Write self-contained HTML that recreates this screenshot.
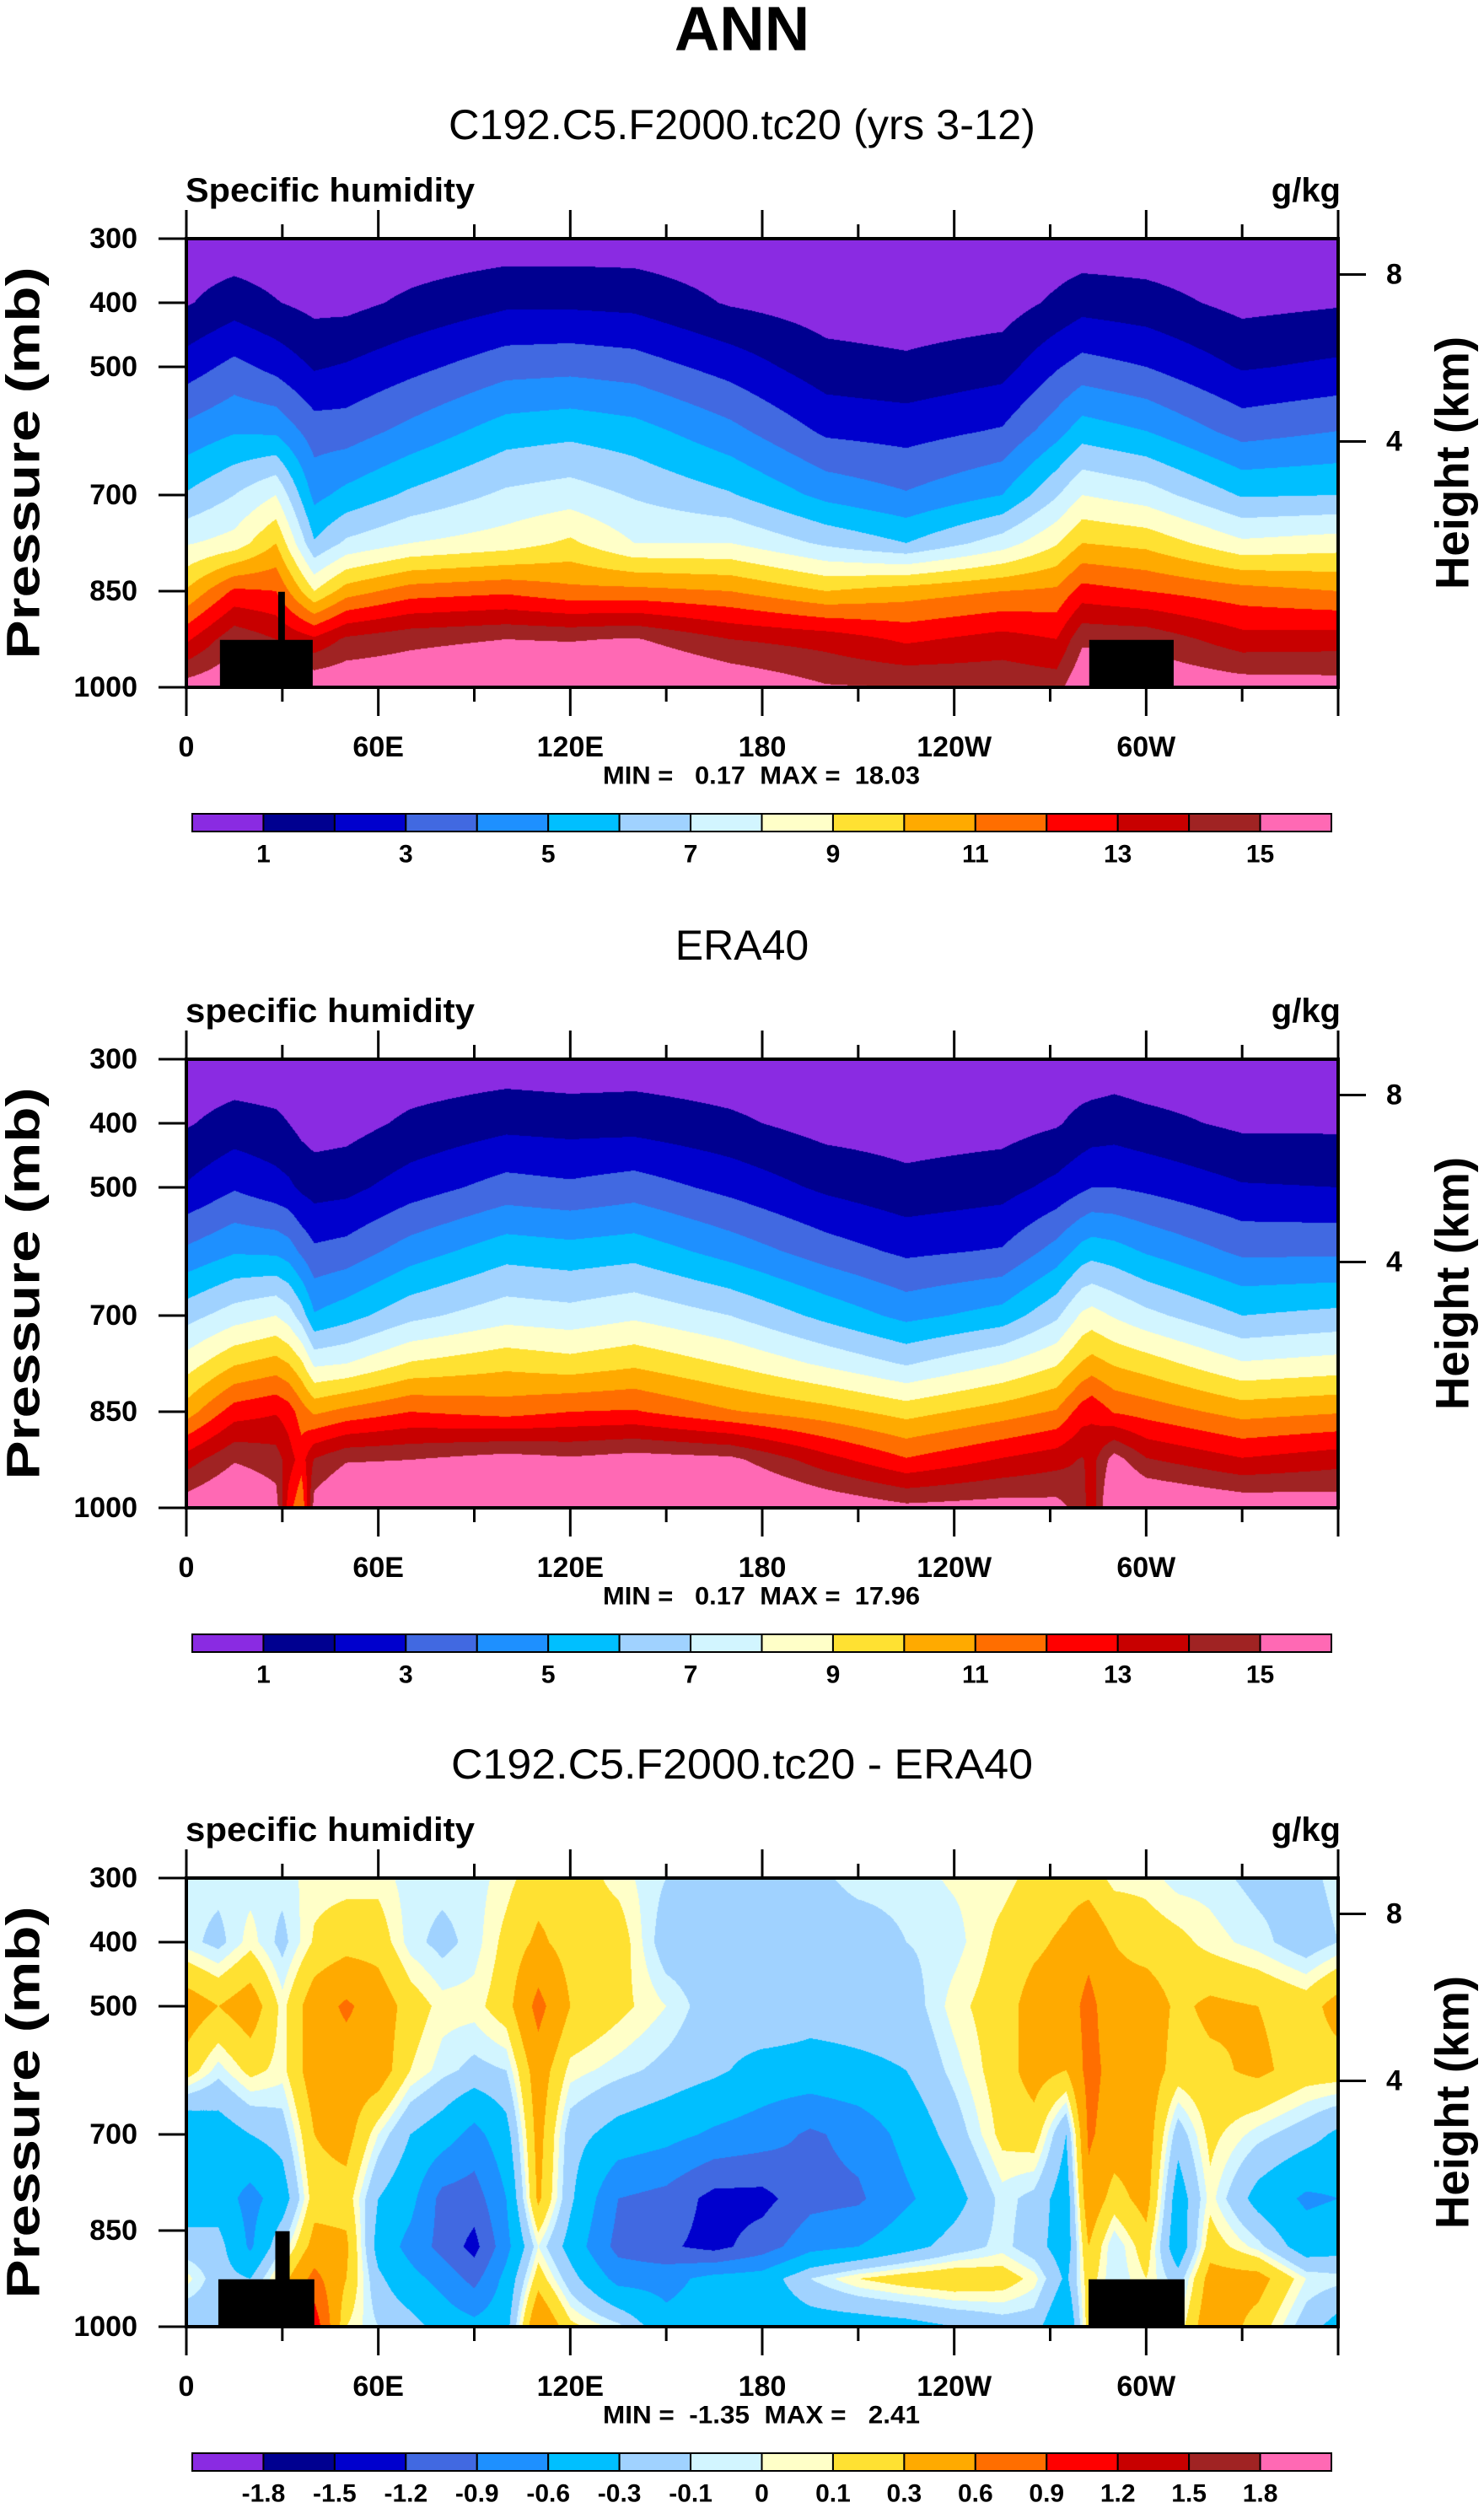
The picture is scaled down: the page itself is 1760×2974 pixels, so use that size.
<!DOCTYPE html>
<html><head><meta charset="utf-8">
<style>
html,body{margin:0;padding:0;background:#fff;}
#wrap{position:relative;width:1760px;height:2974px;overflow:hidden;background:#fff;}
canvas{position:absolute;}
svg{position:absolute;left:0;top:0;}
text{font-family:"Liberation Sans",Arial,sans-serif;}
.pre{white-space:pre;}
</style></head>
<body>
<div id="wrap">
<canvas id="c0" width="1366" height="532" style="left:221px;top:283px"></canvas>
<canvas id="c1" width="1366" height="532" style="left:221px;top:1256px"></canvas>
<canvas id="c2" width="1366" height="532" style="left:221px;top:2227px"></canvas>
<svg id="ov" width="1760" height="2974"></svg>
</div>
<script>
// ---------- data ----------
const qLevels = [1,2,3,4,5,6,7,8,9,10,11,12,13,14,15];
const qLabels = ["1","3","5","7","9","11","13","15"];
const dLevels = [-1.8,-1.5,-1.2,-0.9,-0.6,-0.3,-0.1,0,0.1,0.3,0.6,0.9,1.2,1.5,1.8];
const dLabels = ["-1.8","-1.5","-1.2","-0.9","-0.6","-0.3","-0.1","0","0.1","0.3","0.6","0.9","1.2","1.5","1.8"];
const fillColors = ["#8a2be2","#000090","#0000cd","#4169e1","#1e90ff","#00bfff","#a0d2ff","#d2f5ff","#ffffc8","#ffe132","#ffaa00","#ff6e00","#ff0000","#c80000","#a02323","#ff69b4"];

const presLevels = [300,400,500,600,700,775,850,925,1000];
const lonModel = [0,15,28,40,50,70,100,120,140,170,200,225,255,272,280,300,330,360];
const qModel = [
[0.4,0.9,2.5,4.3,6.1,7.9,10.1,12.8,15.5],
[0.3,1.5,3.3,4.9,7.0,8.4,12.2,14.7,16],
[0.3,1.05,2.7,4.8,8.0,10.0,12,14,16],
[0.2,0.7,1.9,3.5,4.7,6.1,9.0,13.2,16],
[0.2,0.7,2.1,3.5,5.3,7.2,10.5,14.2,16],
[0.3,1.2,2.7,4.3,6.2,8.0,11.5,14.7,16],
[0.4,1.8,3.6,5.5,7.2,8.5,11.8,15,16.5],
[0.4,1.8,3.7,5.7,7.5,9.2,11.3,14.9,16.8],
[0.4,1.7,3.5,5.4,6.9,8.0,11.3,15.1,16.8],
[0.3,0.9,2.6,4.3,6.1,8.0,11.0,14.0,16],
[0.2,0.5,1.4,2.8,4.7,6.8,10.0,13.6,15.1],
[0.2,0.4,1.2,2.6,4.1,6.0,10.5,12.8,15],
[0.2,0.5,1.6,3.1,5.0,7.5,11.0,13.4,14.8],
[0.3,1.2,2.9,4.6,6.9,8.9,11.2,13.0,14.6],
[0.3,1.6,3.4,5.5,8.0,10.0,12.4,14.8,16],
[0.3,1.4,3.0,5.0,7.5,9.7,12.0,14.7,16],
[0.2,0.7,1.9,3.6,5.9,8.2,11.4,13.4,15.6],
[0.3,0.9,2.2,4.0,6.0,8.5,11.0,13.5,15.5]
];

const lonEra = [0,15,28,32,36,40,50,70,100,120,140,170,200,225,255,272,280,283,290,300,330,360];
const qEra = [
[0.3,0.9,2.1,4.2,6.6,8.5,10.5,13.5,15.7],
[0.3,1.4,2.9,4.9,7.5,9.9,12.5,14.9,16.5],
[0.3,1.2,2.4,4.8,8.0,10.4,12.9,14.5,15.5],
[0.3,1.0,2.2,4.5,7.5,10,12.5,13.5,12.5],
[0.25,0.7,1.8,3.8,6.5,9.2,11.5,12.5,11],
[0.2,0.5,1.6,3.2,5.1,7.8,10.8,14.1,15.5],
[0.2,0.6,1.7,3.4,5.6,8.0,11.3,14.9,16.5],
[0.3,1.2,2.5,4.5,6.7,9.1,12.0,15.0,16.5],
[0.4,1.7,3.4,5.6,7.6,9.7,11.6,15.5,17],
[0.3,1.6,3.2,5.4,7.4,9.4,12.0,15.2,17],
[0.4,1.6,3.5,5.6,7.8,9.8,12.1,15.5,17],
[0.3,1.2,2.7,4.6,7.0,8.9,11.1,15.3,17],
[0.2,0.6,1.8,3.5,5.7,7.8,10.4,13.4,16],
[0.2,0.5,1.3,2.8,4.7,6.9,9.6,12.1,15.3],
[0.2,0.6,1.6,3.1,5.4,8.0,10.5,13.1,15.5],
[0.3,0.9,2.3,4.4,6.8,8.9,11.1,13.6,15.4],
[0.3,1.3,2.8,5.4,8.2,10.1,12.5,14.1,14.5],
[0.3,1.4,3.0,5.6,8.4,10.4,12.8,13.6,13.2],
[0.4,1.5,3.0,5.4,7.9,9.9,11.9,15.5,17],
[0.3,1.3,2.8,4.9,7.3,9.5,11.6,14.1,16.5],
[0.3,0.8,2.1,3.8,6.0,8.1,10.6,13.1,15.9],
[0.3,0.8,2.0,3.8,6.3,8.4,10.9,13.6,15.7]
];

const presDiff = [300,400,500,600,700,800,875,925,1000];
const lonDiff = [0,10,20,30,40,50,60,70,80,90,100,110,120,135,150,165,180,195,210,225,240,255,265,275,282,290,300,310,320,335,350,360];
const dDiff = [
[-0.05,-0.05,0.45,0.2,-0.6,-0.45,-0.2,0.05,-0.3],
[-0.05,-0.15,0.3,-0.05,-0.45,-0.45,-0.2,-0.2,-0.2],
[-0.05,0.05,0.45,0.15,-0.3,-0.7,-0.65,-0.3,-0.3],
[-0.05,-0.15,0.05,0.05,-0.2,-0.45,-0.1,0.2,0.2],
[0.05,0.12,0.45,0.45,0.3,0.2,0.4,0.7,1.1],
[0.05,0.2,0.65,0.45,0.4,0.2,0.35,0.3,0.1],
[0.05,0.2,0.45,0.45,0.0,-0.3,-0.4,-0.25,-0.1],
[-0.05,-0.05,0.2,0.1,-0.3,-0.5,-0.7,-0.5,-0.2],
[-0.05,-0.15,0.05,-0.05,-0.45,-1.0,-1.0,-0.7,-0.4],
[-0.05,-0.05,0.05,-0.15,-0.7,-1.05,-1.3,-1.0,-0.5],
[0.05,0.15,0.2,-0.1,-0.4,-0.6,-0.7,-0.5,-0.4],
[0.2,0.35,0.7,0.45,0.4,0.35,0.0,0.2,0.6],
[0.2,0.2,0.3,0.05,-0.2,-0.25,-0.4,-0.2,0.15],
[0.05,0.2,0.15,-0.05,-0.4,-0.9,-1.0,-0.7,-0.05],
[-0.1,-0.2,0.0,-0.15,-0.5,-1.0,-1.15,-0.7,-0.5],
[-0.2,-0.2,-0.2,-0.25,-0.65,-1.3,-1.3,-0.5,-0.45],
[-0.2,-0.2,-0.1,-0.4,-0.75,-1.3,-1.05,-0.45,-0.5],
[-0.15,-0.2,-0.2,-0.4,-0.95,-1.0,-0.7,-0.1,-0.45],
[-0.05,-0.2,-0.2,-0.35,-0.8,-0.95,-0.6,0.1,-0.45],
[-0.05,-0.1,-0.2,-0.3,-0.5,-0.65,-0.4,0.2,-0.4],
[0.02,-0.05,0.05,-0.05,-0.2,-0.4,-0.2,0.25,-0.3],
[0.05,0.15,0.2,0.2,0.15,-0.05,-0.05,0.2,-0.2],
[0.15,0.25,0.4,0.4,0.2,-0.15,-0.2,0.05,-0.2],
[0.2,0.35,0.45,0.3,-0.3,-0.45,-0.45,-0.35,-0.6],
[0.2,0.5,0.7,0.7,0.65,0.5,0.3,0.2,0.2],
[0.05,0.3,0.4,0.5,0.45,0.2,-0.1,-0.1,-0.1],
[0.05,0.2,0.45,0.45,0.45,0.4,0.2,0.1,0.1],
[-0.05,0.15,0.25,0.2,-0.2,-0.45,-0.5,-0.2,0.0],
[-0.05,0.05,0.35,0.25,0.15,0.05,0.2,0.4,0.5],
[-0.15,-0.05,0.3,0.35,-0.05,-0.4,-0.05,0.4,0.2],
[-0.15,-0.2,0.2,0.2,-0.2,-0.65,-0.45,0.0,-0.2],
[-0.05,-0.1,0.4,0.2,-0.35,-0.6,-0.4,-0.05,-0.4]
];

const xTickLons = [0,60,120,180,240,300];
const xTickLabels = ["0","60E","120E","180","120W","60W"];
const yTickPres = [300,400,500,700,850,1000];
const heightTicksKm = [4,8];

// ---------- geometry ----------
const PL = 221, PW = 1366, PH = 532;
const panelTops = [283,1256,2227];
const xScale = lon => PL + lon/360*PW;
const yScale = (top,p) => top + (p-300)/700*PH;

function hex2rgb(h){return [parseInt(h.substr(1,2),16),parseInt(h.substr(3,2),16),parseInt(h.substr(5,2),16)];}
const rgbs = fillColors.map(hex2rgb);

function locate(arr, v){
  let i=0; while(i<arr.length-2 && v>arr[i+1]) i++;
  let t=(v-arr[i])/(arr[i+1]-arr[i]); t=Math.max(0,Math.min(1,t));
  return [i,t];
}
function drawField(id, lons, pres, cols, levels){
  const cv=document.getElementById(id), ctx=cv.getContext('2d');
  const img=ctx.createImageData(PW,PH), d=img.data;
  const xs=[]; for(let x=0;x<PW;x++) xs.push(locate(lons,(x+0.5)/PW*360));
  for(let y=0;y<PH;y++){
    const [j,u]=locate(pres,300+(y+0.5)/PH*700);
    for(let x=0;x<PW;x++){
      const [i,t]=xs[x];
      const v=(1-t)*(1-u)*cols[i][j]+t*(1-u)*cols[i+1][j]+(1-t)*u*cols[i][j+1]+t*u*cols[i+1][j+1];
      let k=0; while(k<levels.length && v>=levels[k]) k++;
      const c=rgbs[k], o=(y*PW+x)*4;
      d[o]=c[0];d[o+1]=c[1];d[o+2]=c[2];d[o+3]=255;
    }
  }
  ctx.putImageData(img,0,0);
}
drawField('c0',lonModel,presLevels,qModel,qLevels);
drawField('c1',lonEra,presLevels,qEra,qLevels);
drawField('c2',lonDiff,presDiff,dDiff,dLevels);

// ---------- overlay ----------
const NS="http://www.w3.org/2000/svg", svg=document.getElementById('ov');
function mk(tag, attrs, parent){
  const e=document.createElementNS(NS,tag);
  for(const k in attrs) e.setAttribute(k,attrs[k]);
  (parent||svg).appendChild(e); return e;
}
function txt(s, attrs, name){
  const e=mk('text',attrs); e.textContent=s;
  
  
  return e;
}
txt("ANN",{x:880,y:34,"font-size":74,"font-weight":"bold","text-anchor":"middle","dominant-baseline":"central"},"figure-title");

const panels = [
 {title:"C192.C5.F2000.tc20 (yrs 3-12)", tw:696, left:"Specific humidity", mm:"MIN =   0.17  MAX =  18.03", masks:[[10.5,39.5,926],[28.7,30.8,851],[282.2,308.6,926]], labels:qLabels, step:2},
 {title:"ERA40", tw:0, left:"specific humidity", mm:"MIN =   0.17  MAX =  17.96", masks:[], labels:qLabels, step:2},
 {title:"C192.C5.F2000.tc20 - ERA40", tw:690, left:"specific humidity", mm:"MIN =  -1.35  MAX =   2.41", masks:[[10,40,926],[27.8,32.3,851],[282,312,926]], labels:dLabels, step:1}
];
function hPres(km){return 1013.25*Math.pow(1-2.25577e-5*km*1000,5.25588);}

panels.forEach((pn,n)=>{
  const top=panelTops[n], bot=top+PH, off=top-283;
  const ta={x:880,y:148+off,"font-size":50,"text-anchor":"middle","dominant-baseline":"central"};
  if(pn.tw) {ta.textLength=pn.tw; ta.lengthAdjust="spacingAndGlyphs";}
  txt(pn.title,ta,"panel-title-"+(n+1));
  txt(pn.left,{x:220,y:226+off,"font-size":40,"font-weight":"bold","dominant-baseline":"central",textLength:343,lengthAdjust:"spacingAndGlyphs"},"variable-label-"+(n+1));
  txt("g/kg",{x:1590,y:226+off,"font-size":40,"font-weight":"bold","text-anchor":"end","dominant-baseline":"central"},"units-label-"+(n+1));
  pn.masks.forEach(m=>{
    const r=mk('rect',{x:xScale(m[0]),y:yScale(top,m[2]),width:xScale(m[1])-xScale(m[0]),height:bot-yScale(top,m[2]),fill:"#000"});
    
    
  });
  const fr=mk('rect',{x:PL,y:top,width:PW,height:PH,fill:"none",stroke:"#000","stroke-width":4});
  
  
  for(let lon=0;lon<=360;lon+=30){
    const major = lon%60===0, len = major?34:17, x=xScale(lon);
    const a=mk('line',{x1:x,x2:x,y1:top,y2:top-len,stroke:"#000","stroke-width":3});
    
    
    const b=mk('line',{x1:x,x2:x,y1:bot,y2:bot+len,stroke:"#000","stroke-width":3});
    
    
  }
  xTickLons.forEach((lon,i)=>txt(xTickLabels[i],{x:xScale(lon),y:886+off,"font-size":34,"font-weight":"bold","text-anchor":"middle","dominant-baseline":"central"},"x-tick-label"));
  yTickPres.forEach(p=>{
    const y=yScale(top,p);
    const l=mk('line',{x1:PL,x2:PL-33,y1:y,y2:y,stroke:"#000","stroke-width":3});
    
    
    txt(String(p),{x:163,y:y,"font-size":34,"font-weight":"bold","text-anchor":"end","dominant-baseline":"central"},"y-tick-label");
  });
  heightTicksKm.forEach(km=>{
    const y=yScale(top,hPres(km));
    const l=mk('line',{x1:PL+PW,x2:PL+PW+33,y1:y,y2:y,stroke:"#000","stroke-width":3});
    
    
    txt(String(km),{x:1644,y:y,"font-size":34,"font-weight":"bold","dominant-baseline":"central"},"height-tick-label");
  });
  const cy=top+PH/2;
  txt("Pressure (mb)",{x:27,y:cy,"font-size":56,"font-weight":"bold","text-anchor":"middle","dominant-baseline":"central",transform:`rotate(-90 27 ${cy})`,textLength:465,lengthAdjust:"spacingAndGlyphs"},"y-axis-title");
  txt("Height (km)",{x:1722,y:cy,"font-size":56,"font-weight":"bold","text-anchor":"middle","dominant-baseline":"central",transform:`rotate(-90 1722 ${cy})`,textLength:300,lengthAdjust:"spacingAndGlyphs"},"right-axis-title");
  txt(pn.mm,{x:903,y:920+off,"font-size":30,"font-weight":"bold","text-anchor":"middle","dominant-baseline":"central","class":"pre",textLength:376,lengthAdjust:"spacingAndGlyphs"},"min-max-label");
  const cbL=228, cbW=1351, bw=cbW/16, cbT=965+off, cbH=21;
  fillColors.forEach((c,i)=>{
    const r=mk('rect',{x:cbL+i*bw,y:cbT,width:bw,height:cbH,fill:c,stroke:"#000","stroke-width":2});
    
    
  });
  pn.labels.forEach((s,i)=>{
    const b=1+i*pn.step;
    txt(s,{x:cbL+b*bw,y:1013+off,"font-size":30,"font-weight":"bold","text-anchor":"middle","dominant-baseline":"central"},"colorbar-label");
  });
});
</script>
</body></html>
